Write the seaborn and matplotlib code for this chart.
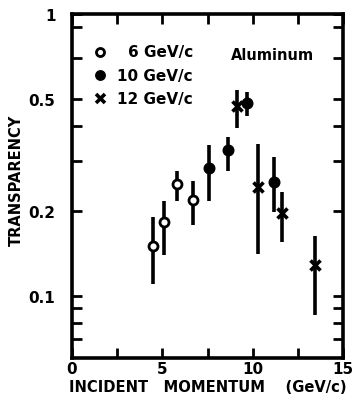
import numpy as np
import matplotlib
matplotlib.use('Agg')
import matplotlib.pyplot as plt
import seaborn as sns
import pandas as pd

# 6 GeV/c (open circles)
p6 = [4.47, 5.09, 5.79, 6.68]
t6 = [0.150, 0.183, 0.250, 0.219]
lo6 = [0.110, 0.139, 0.217, 0.178]
hi6 = [0.190, 0.217, 0.278, 0.256]

# 10 GeV/c (filled circles)
p10 = [7.60, 8.65, 9.70, 11.18]
t10 = [0.283, 0.329, 0.483, 0.254]
lo10 = [0.216, 0.278, 0.433, 0.198]
hi10 = [0.343, 0.365, 0.527, 0.310]

# 12 GeV/c (crosses)
p12 = [9.11, 10.31, 11.60, 13.45]
t12 = [0.473, 0.242, 0.197, 0.128]
lo12 = [0.393, 0.141, 0.155, 0.085]
hi12 = [0.539, 0.344, 0.234, 0.163]

series = ['6 GeV/c', '10 GeV/c', '12 GeV/c']

df = pd.DataFrame({
    'momentum': p6 + p10 + p12,
    'transparency': t6 + t10 + t12,
    'lo': lo6 + lo10 + lo12,
    'hi': hi6 + hi10 + hi12,
    'beam': [series[0]] * 4 + [series[1]] * 4 + [series[2]] * 4,
})

sns.set_style('ticks', {'axes.edgecolor': 'black', 'text.color': 'black',
                        'xtick.color': 'black', 'ytick.color': 'black',
                        'axes.labelcolor': 'black'})
plt.rcParams['font.family'] = ['DejaVu Sans']
plt.rcParams['font.weight'] = 'bold'

fig = plt.figure(figsize=(3.54, 4.06), dpi=100)
ax = fig.add_axes([0.2034, 0.1158, 0.7656, 0.8472])

# error bars
ax.vlines(df['momentum'], df['lo'], df['hi'], color='black', lw=2.6, zorder=2)

styles = {
    series[0]: dict(marker='o', s=42, facecolor='white', edgecolor='black', linewidth=2.0),
    series[1]: dict(marker='o', s=58, facecolor='black', edgecolor='black', linewidth=1.0),
    series[2]: dict(marker='x', s=52, color='black', linewidth=2.6),
}
for name in series:
    sub = df[df['beam'] == name]
    sns.scatterplot(data=sub, x='momentum', y='transparency', ax=ax,
                    zorder=3, legend=False, **styles[name])

ax.set_yscale('log')
ax.set_xlim(0, 15)
ax.set_ylim(0.06, 1)

ax.set_xticks([0, 5, 10, 15])
ax.set_xticklabels(['0', '5', '10', '15'])
ax.set_xticks([2.5, 7.5, 12.5], minor=True)
ax.set_yticks([0.1, 0.2, 0.5, 1])
ax.set_yticklabels(['0.1', '0.2', '0.5', '1'])
ax.set_yticks([0.07, 0.08, 0.09, 0.3, 0.4, 0.7, 0.9], minor=True)
ax.yaxis.set_minor_formatter(matplotlib.ticker.NullFormatter())

ax.tick_params(which='both', direction='in', top=True, right=True,
               length=7, width=2.0, labelsize=11)
ax.tick_params(axis='y', pad=12)
ax.tick_params(axis='x', pad=2)
for sp in ax.spines.values():
    sp.set_linewidth(2.6)
    sp.set_visible(True)

ax.set_xlabel('INCIDENT   MOMENTUM    (GeV/c)', fontsize=10.6, fontweight='bold', labelpad=2)
ax.set_ylabel('TRANSPARENCY', fontsize=10.5, fontweight='bold')
ax.yaxis.set_label_coords(-0.178, 0.52)

# legend drawn as marker + text rows
legend_y = [0.733, 0.607, 0.503]
for name, yv in zip(series, legend_y):
    st = dict(styles[name])
    st['s'] = st['s'] * 0.8
    ax.scatter([1.55], [yv], clip_on=False, **st)
    ax.text(6.7, yv, name, fontsize=11, fontweight='bold', va='center', ha='right')
ax.text(11.1, 0.72, 'Aluminum', fontsize=10.5, fontweight='bold', va='center', ha='center')

fig.savefig('out.png', dpi=100, facecolor='white')
